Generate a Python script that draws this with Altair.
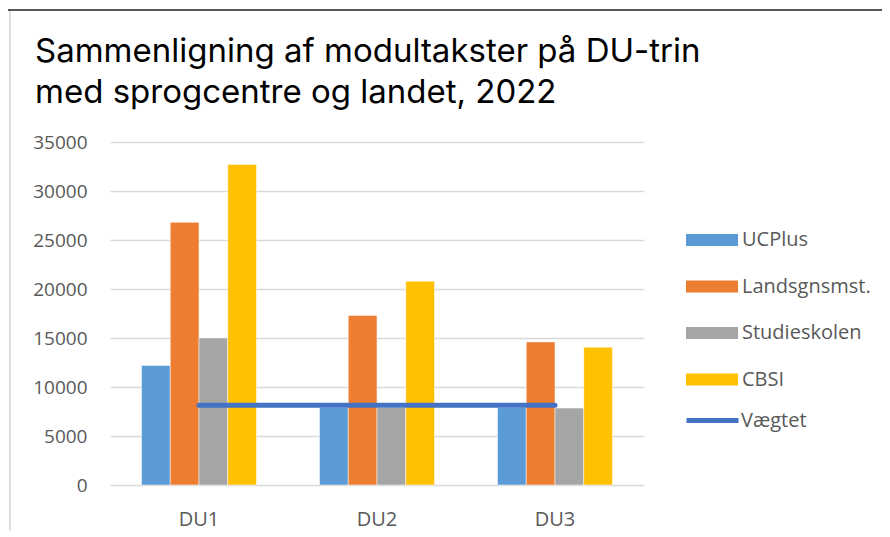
import altair as alt
import pandas as pd

categories = ["DU1", "DU2", "DU3"]
series = ["UCPlus", "Landsgnsmst.", "Studieskolen", "CBSI"]
ucplus = [12200, 7900, 7900]
landsgns = [26800, 17300, 14600]
studieskolen = [15000, 7900, 7850]
cbsi = [32700, 20800, 14050]
vaegtet = [8150, 8150, 8150]
bar_colors = ["#5B9BD5", "#ED7D31", "#A5A5A5", "#FFC000"]
line_color = "#4472C4"
y_ticks = [0, 5000, 10000, 15000, 20000, 25000, 30000, 35000]

rows = []
for s, vals in zip(series, [ucplus, landsgns, studieskolen, cbsi]):
    for c, v in zip(categories, vals):
        rows.append({"cat": c, "series": s, "value": v})
bars_df = pd.DataFrame(rows)
line_df = pd.DataFrame({"cat": categories, "series": ["Vægtet"] * 3, "value": vaegtet})

W, H = 534, 343
PAD_L, PAD_T = 102, 134
TOTAL_W, TOTAL_H = 874, 523

x_enc = alt.X("cat:N", sort=categories, title=None,
              scale=alt.Scale(paddingInner=0.354, paddingOuter=0.177),
              axis=alt.Axis(labelAngle=0, domain=False, ticks=False, labelPadding=24,
                            labelFontSize=20, labelColor="#595959", labelFont="Open Sans"))
y_enc = alt.Y("value:Q", title=None,
              scale=alt.Scale(domain=[0, 35000], nice=False),
              axis=alt.Axis(values=y_ticks, format="d", domain=False, ticks=False, labelPadding=23,
                            labelFontSize=19, labelColor="#595959", labelFont="Open Sans",
                            gridColor="#D9D9D9", gridWidth=1.3))

bars = alt.Chart(bars_df).mark_bar(stroke="white", strokeWidth=0.5).encode(
    x=x_enc,
    xOffset=alt.XOffset("series:N", sort=series, scale=alt.Scale(paddingInner=0, paddingOuter=0)),
    y=y_enc,
    fill=alt.Fill("series:N", sort=series,
                  scale=alt.Scale(domain=series, range=bar_colors),
                  legend=alt.Legend(title=None, orient="none", legendX=576, legendY=72,
                                    symbolType="M-1,-0.23H1V0.23H-1Z", symbolSize=2704,
                                    symbolStrokeWidth=0, labelFontSize=20, labelColor="#595959",
                                    labelFont="Open Sans", rowPadding=10.5, labelOffset=4)),
)

line = alt.Chart(line_df).mark_line(strokeWidth=5, strokeCap="round").encode(
    x=alt.X("cat:N", sort=categories),
    y=alt.Y("value:Q"),
    stroke=alt.Stroke("series:N", scale=alt.Scale(domain=["Vægtet"], range=[line_color]),
                      legend=alt.Legend(title=None, orient="none", legendX=574, legendY=250,
                                        symbolType="stroke", symbolSize=2704, symbolStrokeWidth=5,
                                        labelFontSize=20, labelColor="#595959",
                                        labelFont="Open Sans", labelOffset=0)),
)

top_border = alt.Chart(line_df).mark_rule(color="#404040", strokeWidth=1).encode(
    x=alt.value(6 - 110), x2=alt.value(TOTAL_W - PAD_L + 10), y=alt.value(10 - 142)
)
left_border = alt.Chart(line_df).mark_rule(color="#D9D9D9", strokeWidth=1).encode(
    x=alt.value(10 - 110), y=alt.value(11 - 142), y2=alt.value(TOTAL_H - PAD_T)
)

chart = alt.layer(bars, line, top_border, left_border).properties(
    width=W, height=H,
    padding={"left": PAD_L, "top": PAD_T, "right": TOTAL_W - PAD_L - W, "bottom": TOTAL_H - PAD_T - H},
    autosize=alt.AutoSizeParams(type="none"),
    title=alt.TitleParams(
        text=["Sammenligning af modultakster på DU-trin", "med sprogcentre og landet, 2022"],
        anchor="start", frame="group", dx=-75, dy=130, offset=30, fontSize=33, font="Inter",
        fontWeight="normal", color="#000000", lineHeight=40.5),
).configure_view(stroke=None).configure_scale(bandWithNestedOffsetPaddingInner=0)

chart.save("out.html", embed_options={"renderer": "svg", "actions": False})
